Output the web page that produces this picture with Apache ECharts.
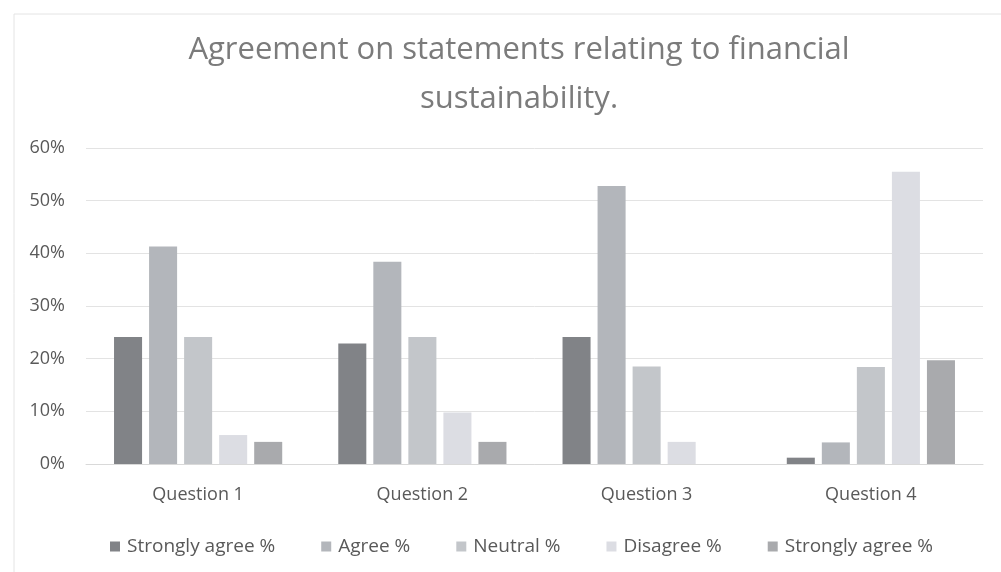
<!DOCTYPE html>
<html>
<head>
<meta charset="utf-8">
<script src="https://cdn.jsdelivr.net/npm/echarts@6/dist/echarts.min.js"></script>
<style>
  html, body { margin: 0; padding: 0; background: #ffffff; }
  #chart { width: 1001px; height: 572px; }
</style>
</head>
<body>
<div id="chart"></div>
<script>
// Survey questions along the x axis
const categories = ['Question 1', 'Question 2', 'Question 3', 'Question 4'];

// Share of responses per answer (%)
const stronglyAgree = [24.1, 22.9, 24.1, 1.2];
const agree = [41.3, 38.4, 52.8, 4.1];
const neutral = [24.1, 24.1, 18.5, 18.4];
const disagree = [5.5, 9.8, 4.2, 55.5];
const stronglyAgree2 = [4.2, 4.2, 0, 19.7];

const seriesNames = ['Strongly agree %', 'Agree %', 'Neutral %', 'Disagree %', 'Strongly agree %'];
const seriesValues = [stronglyAgree, agree, neutral, disagree, stronglyAgree2];
const seriesColors = ['#818387', '#b3b6bb', '#c3c6ca', '#dcdde3', '#a9aaad'];

const yTicks = [0, 10, 20, 30, 40, 50, 60];

const font = '"Open Sans", "DejaVu Sans", sans-serif';

// the two "Strongly agree %" series need distinct keys for the legend
const seriesKey = i => (i === 4 ? seriesNames[i] + '\u200b' : seriesNames[i]);

const chart = echarts.init(document.getElementById('chart'), null, { renderer: 'canvas' });

chart.setOption({
  backgroundColor: '#ffffff',
  animation: false,
  graphic: [{
    type: 'rect',
    shape: { x: 14, y: 14, width: 1000, height: 600 },
    style: { fill: 'none', stroke: '#e4e4e4', lineWidth: 1 },
    silent: true
  }],
  title: {
    text: 'Agreement on statements relating to financial\nsustainability.',
    left: 514,
    top: 21,
    textAlign: 'center',
    textStyle: {
      fontFamily: font,
      fontSize: 31,
      fontWeight: 'normal',
      color: '#7b7b7b',
      lineHeight: 49
    }
  },
  legend: {
    bottom: 11,
    left: 105,
    itemWidth: 10,
    itemHeight: 10,
    itemGap: 46,
    icon: 'rect',
    textStyle: { fontFamily: font, fontSize: 19, color: '#595959', padding: [0, 0, 0, 2] },
    data: seriesNames.map((n, i) => ({ name: seriesKey(i), icon: 'rect' }))
  },
  grid: { left: 86, right: 18, top: 148, bottom: 108 },
  xAxis: {
    type: 'category',
    data: categories,
    axisLine: { lineStyle: { color: '#d9d9d9', width: 1 } },
    axisTick: { show: false },
    axisLabel: { fontFamily: font, fontSize: 18, color: '#595959', margin: 22 }
  },
  yAxis: {
    type: 'value',
    min: yTicks[0],
    max: yTicks[yTicks.length - 1],
    interval: 10,
    axisLine: { show: false },
    axisTick: { show: false },
    splitLine: { lineStyle: { color: '#e3e3e3', width: 1 } },
    axisLabel: {
      fontFamily: font,
      fontSize: 18,
      color: '#595959',
      margin: 21,
      formatter: v => v + '%'
    }
  },
  series: seriesValues.map((vals, i) => ({
    name: seriesKey(i),
    type: 'bar',
    data: vals,
    barGap: '25%',
    barCategoryGap: '25%',
    itemStyle: { color: seriesColors[i] }
  }))
});
</script>
</body>
</html>
